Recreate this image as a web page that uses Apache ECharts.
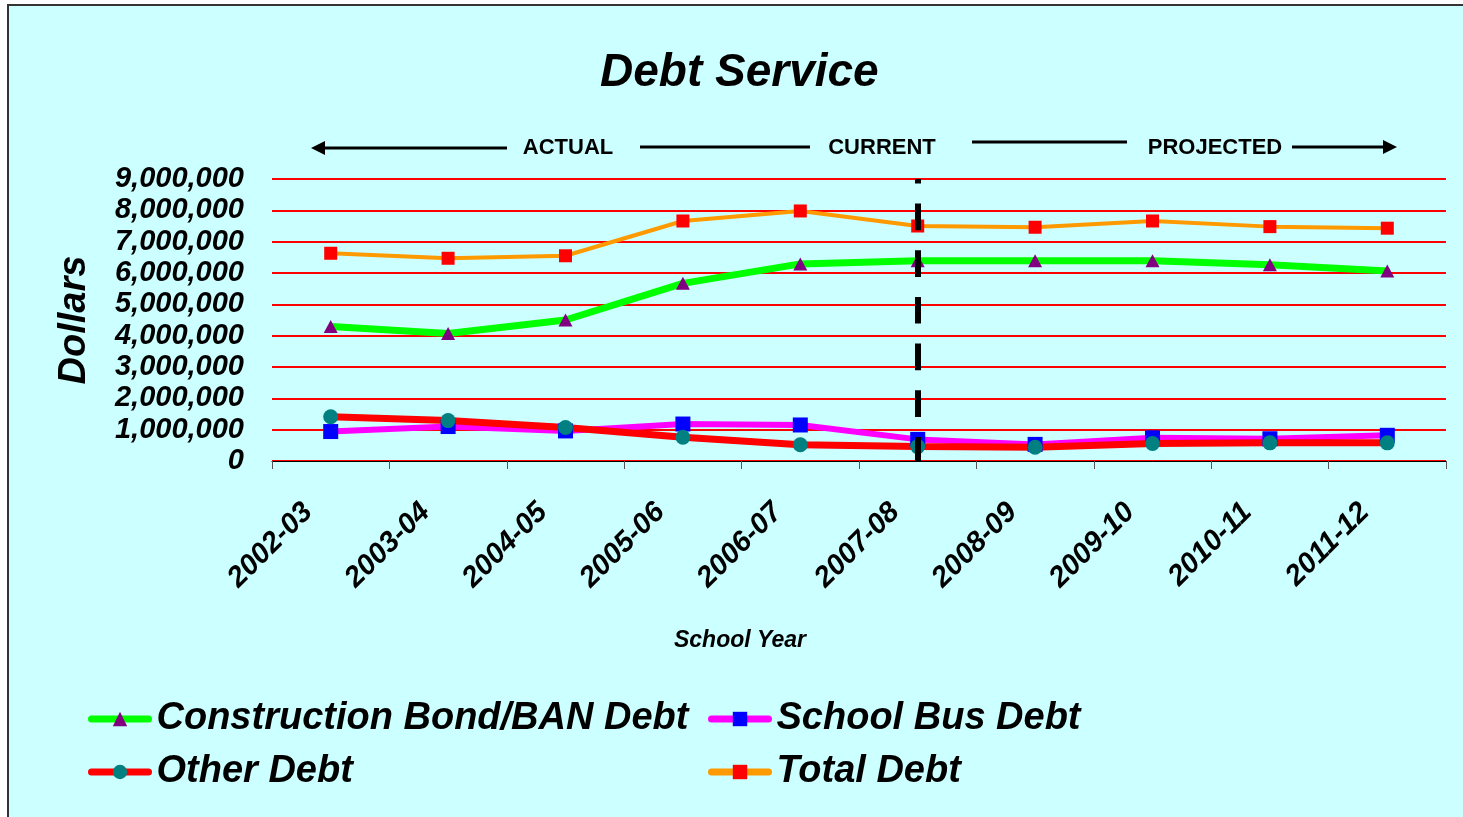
<!DOCTYPE html>
<html>
<head>
<meta charset="utf-8">
<title>Debt Service</title>
<script src="https://cdn.jsdelivr.net/npm/echarts@6/dist/echarts.min.js"></script>
<style>
  html, body { margin: 0; padding: 0; background: #fff; }
  #frame {
    position: absolute; left: 7px; top: 4px; width: 1500px; height: 900px;
    background: #ccffff; border-left: 2px solid #333; border-top: 2px solid #333;
  }
  #main { position: absolute; left: 0; top: 0; width: 1463px; height: 817px; }
</style>
</head>
<body>
<div id="frame"></div>
<div id="main"></div>
<script>
// school years
var years = ['2002-03', '2003-04', '2004-05', '2005-06', '2006-07',
             '2007-08', '2008-09', '2009-10', '2010-11', '2011-12'];

// values (dollars)
var constructionDebt = [4290000, 4070000, 4500000, 5670000, 6290000, 6390000, 6390000, 6390000, 6260000, 6060000];
var schoolBusDebt    = [940000, 1100000, 960000, 1180000, 1150000, 690000, 530000, 740000, 710000, 820000];
var otherDebt        = [1410000, 1290000, 1070000, 760000, 520000, 460000, 440000, 560000, 580000, 580000];
var totalDebt        = [6630000, 6470000, 6550000, 7660000, 7980000, 7500000, 7460000, 7660000, 7480000, 7430000];

// year where actual turns into projected
var currentYear = '2007-08';

var FONT = 'Liberation Sans, Arial, sans-serif';

var chart = echarts.init(document.getElementById('main'));

var legendText = {
  fontSize: 38,
  fontWeight: 'bold',
  fontStyle: 'italic',
  fontFamily: FONT,
  color: '#000',
  lineHeight: 40,
  padding: [0, 0, 0, 3]
};

var headerText = function (txt, x, y) {
  return {
    type: 'text', x: x, y: y,
    style: { text: txt, fontSize: 22, fontWeight: 'bold', fontFamily: FONT, fill: '#000', align: 'center', verticalAlign: 'middle' }
  };
};

var option = {
  backgroundColor: 'transparent',
  animation: false,
  title: {
    text: 'Debt Service',
    left: 600,
    top: 50,
    padding: 0,
    textStyle: { fontSize: 46, fontWeight: 'bold', fontStyle: 'italic', fontFamily: FONT, color: '#000' }
  },
  legend: [
    {
      orient: 'vertical',
      left: 83,
      top: 694,
      itemGap: 13,
      itemWidth: 57,
      itemHeight: 18,
      lineStyle: { width: 7, cap: 'round' },
      data: ['Construction Bond/BAN Debt', 'Other Debt'],
      textStyle: legendText
    },
    {
      orient: 'vertical',
      left: 703,
      top: 694,
      itemGap: 13,
      itemWidth: 57,
      itemHeight: 18,
      lineStyle: { width: 7, cap: 'round' },
      data: ['School Bus Debt', 'Total Debt'],
      textStyle: legendText
    }
  ],
  grid: { left: 272, right: 17, top: 179, bottom: 356 },
  xAxis: {
    type: 'category',
    data: years,
    boundaryGap: true,
    name: 'School Year',
    nameLocation: 'middle',
    nameGap: 168,
    nameTextStyle: {
      fontSize: 23, fontWeight: 'bold', fontStyle: 'italic', fontFamily: FONT, color: '#000',
      padding: [0, 238, 0, 0]
    },
    axisLine: { lineStyle: { color: '#000', width: 1 } },
    axisTick: { show: true, length: 8, lineStyle: { color: '#555' } },
    axisLabel: {
      rotate: 45,
      margin: 24,
      padding: [0, 32, 0, 0],
      interval: 0,
      fontSize: 29,
      fontWeight: 'bold',
      fontStyle: 'italic',
      fontFamily: FONT,
      color: '#000'
    },
    splitLine: { show: false }
  },
  yAxis: {
    type: 'value',
    min: 0,
    max: 9000000,
    interval: 1000000,
    name: 'Dollars',
    nameLocation: 'middle',
    nameRotate: 90,
    nameGap: 178,
    nameTextStyle: { fontSize: 38, fontWeight: 'bold', fontStyle: 'italic', fontFamily: FONT, color: '#000' },
    axisLine: { show: false },
    axisTick: { show: false },
    axisLabel: {
      margin: 28,
      fontSize: 29,
      fontWeight: 'bold',
      fontStyle: 'italic',
      fontFamily: FONT,
      color: '#000',
      formatter: function (v) { return v.toLocaleString('en-US'); }
    },
    splitLine: { lineStyle: { color: '#ff0000', width: 2 } }
  },
  series: [
    {
      name: 'Construction Bond/BAN Debt',
      type: 'line',
      data: constructionDebt,
      symbol: 'triangle',
      symbolSize: [14, 13],
      lineStyle: { color: '#00ff00', width: 7 },
      itemStyle: { color: '#800080' }
    },
    {
      name: 'School Bus Debt',
      type: 'line',
      data: schoolBusDebt,
      symbol: 'rect',
      symbolSize: 15,
      lineStyle: { color: '#ff00ff', width: 6 },
      itemStyle: { color: '#0000ff' }
    },
    {
      name: 'Other Debt',
      type: 'line',
      data: otherDebt,
      symbol: 'circle',
      symbolSize: 15,
      lineStyle: { color: '#ff0000', width: 7 },
      itemStyle: { color: '#008080' }
    },
    {
      name: 'Total Debt',
      type: 'line',
      data: totalDebt,
      symbol: 'rect',
      symbolSize: 13,
      lineStyle: { color: '#ff9900', width: 4 },
      itemStyle: { color: '#ff0000' }
    },
    {
      // dashed divider at the current year
      name: 'divider',
      type: 'line',
      data: [],
      z: 6,
      markLine: {
        silent: true,
        symbol: ['none', 'none'],
        label: { show: false },
        lineStyle: { color: '#000', width: 6, type: [26.7, 20], dashOffset: 2.7 },
        data: [{ xAxis: currentYear }]
      }
    }
  ],
  graphic: [
    // ACTUAL / CURRENT / PROJECTED header with arrows
    { type: 'line', shape: { x1: 322, y1: 148, x2: 507, y2: 148 }, style: { stroke: '#000', lineWidth: 3 } },
    { type: 'polygon', shape: { points: [[311, 148], [325, 141], [325, 155]] }, style: { fill: '#000' } },
    headerText('ACTUAL', 568, 148),
    { type: 'line', shape: { x1: 640, y1: 147, x2: 810, y2: 147 }, style: { stroke: '#000', lineWidth: 3 } },
    headerText('CURRENT', 882, 148),
    { type: 'line', shape: { x1: 972, y1: 142, x2: 1127, y2: 142 }, style: { stroke: '#000', lineWidth: 3 } },
    headerText('PROJECTED', 1215, 148),
    { type: 'line', shape: { x1: 1292, y1: 147, x2: 1384, y2: 147 }, style: { stroke: '#000', lineWidth: 3 } },
    { type: 'polygon', shape: { points: [[1397, 147], [1383, 140], [1383, 154]] }, style: { fill: '#000' } }
  ]
};

chart.setOption(option);
</script>
</body>
</html>
